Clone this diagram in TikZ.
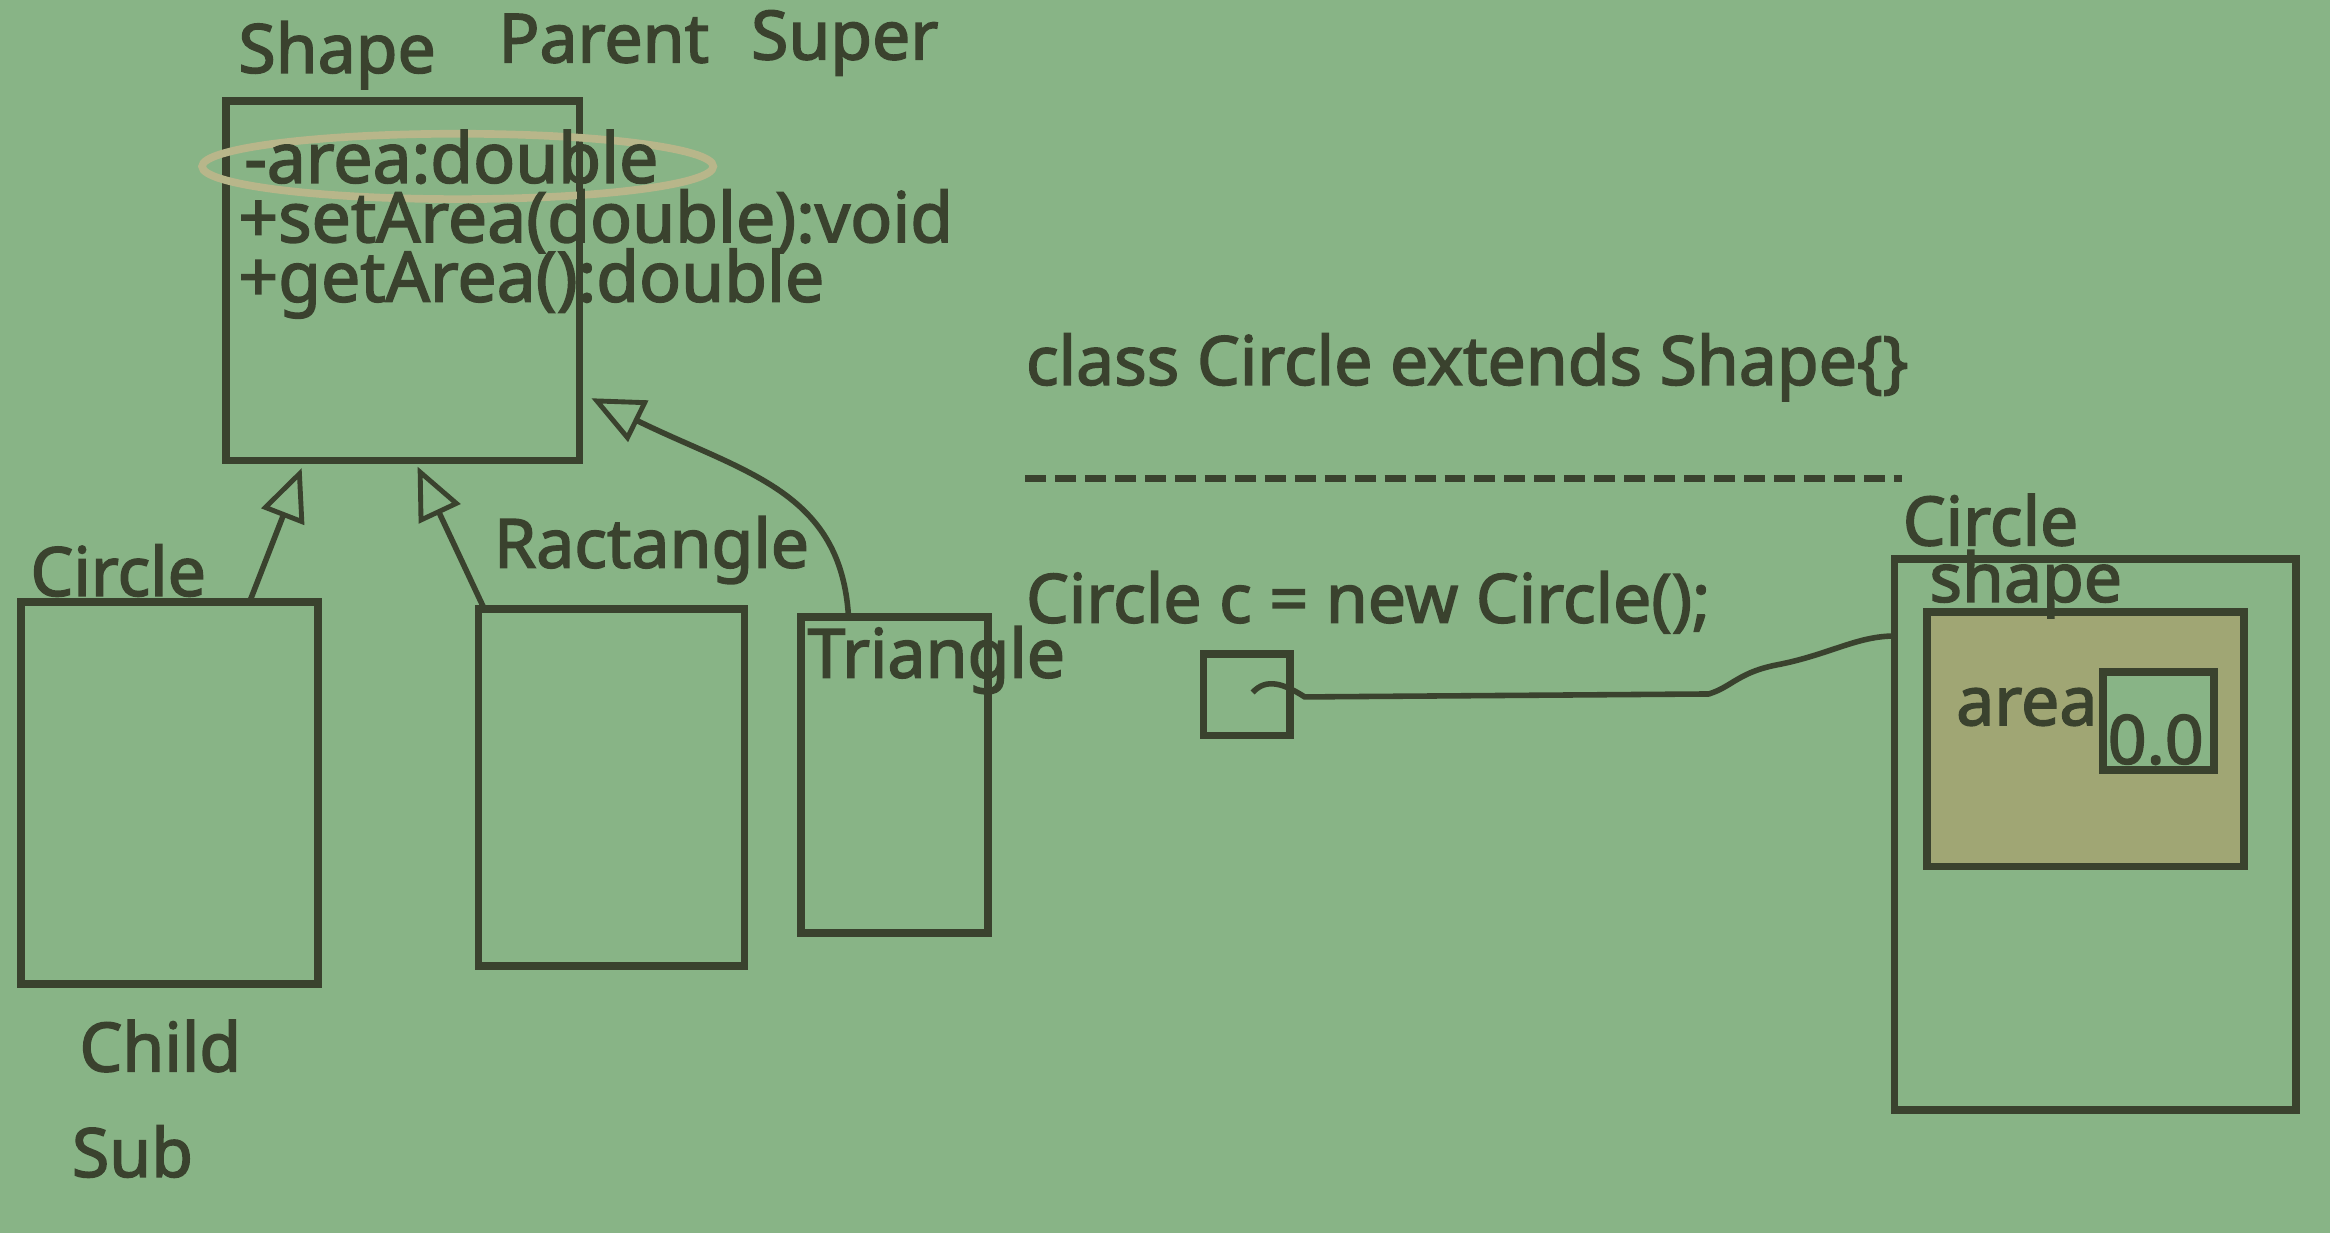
\documentclass[tikz,border=0pt]{standalone}
\usepackage{fontspec}
\setmainfont{Noto Sans}[BoldFont={Noto Sans}, BoldFeatures={FakeBold=2.2}]
\usetikzlibrary{arrows.meta, fit}

\definecolor{board}{RGB}{136,180,134}
\definecolor{ink}{RGB}{58,66,46}
\definecolor{chalk}{RGB}{184,182,138}
\definecolor{heap}{RGB}{160,166,116}

\begin{document}
\begin{tikzpicture}[x=0.15mm, y=-0.15mm, font=\bfseries\fontsize{19.5}{23}\selectfont]
    \tikzset{
        box/.style={draw=ink, line width=2.2pt, inner sep=0pt, outer sep=0pt},
        tag/.style={text=ink, inner sep=0pt, anchor=base west},
        member/.style={tag, font=\bfseries\fontsize{20}{24}\selectfont},
        inherit/.style={draw=ink, line width=1.6pt,
            -{Triangle[open, length=15pt, width=13pt, line width=1.4pt]}},
        wire/.style={draw=ink, line width=1.6pt},
        divider/.style={draw=ink, line width=1.8pt, dash pattern=on 6pt off 2.6pt}
    }

    \fill[board] (0,0) rectangle (1568,830);

    % class diagram
    \node[box, fit={(152,68) (390,310)}] (shapebox) {};
    \node[box, fit={(14,405) (214,662)}] (circbox) {};
    \node[box, fit={(322,410) (501,650)}] (rectbox) {};
    \node[box, fit={(539,415) (665,628)}] (tribox) {};

    \draw[chalk, line width=2.2pt] (308,112) ellipse [x radius=172, y radius=22];

    \node[tag] (shapename) at (160,49) {Shape};
    \node[tag] (parentword) at (335,42) {Parent};
    \node[tag] (superword) at (505,40) {Super};
    \node[member] (field) at (164,123) {-area:double};
    \node[member] (setter) at (160,163) {+setArea(double):void};
    \node[member] (getter) at (160,203) {+getArea():double};

    \node[tag] (circname) at (20,401) {Circle};
    \node[tag] (rectname) at (332,382) {Ractangle};
    \node[tag] (triname) at (543,456) {Triangle};
    \node[tag] (childword) at (53,721) {Child};
    \node[tag] (subword) at (48,792) {Sub};

    \coordinate (circfoot) at (168,405);
    \coordinate (circtip) at (203,315);
    \coordinate (rectfoot) at (326,410);
    \coordinate (recttip) at (281,314);
    \coordinate (trifoot) at (571,415);
    \coordinate (tritip) at (398,268);

    \draw[inherit] (circfoot) -- (circtip);
    \draw[inherit] (rectfoot) -- (recttip);
    \draw[inherit] (trifoot) .. controls (566,330) and (500,318) .. (tritip);

    % code and memory
    \node[tag] (classline) at (690,259) {class Circle extends Shape\{\}};
    \coordinate (dashstart) at (690,322);
    \coordinate (dashend) at (1280,322);
    \draw[divider] (dashstart) -- (dashend);
    \node[tag] (newline) at (690,419) {Circle c = new Circle();};

    \node[box, fit={(810,440) (868,495)}] (ptrbox) {};
    \node[box, fit={(1275,376) (1545,747)}] (objbox) {};
    \node[box, fill=heap, fit={(1297,412) (1510,583)}] (shapepart) {};
    \node[box, fill=board, fit={(1415,452) (1490,518)}] (areabox) {};

    \node[tag] (objname) at (1280,367) {Circle};
    \node[tag] (partname) at (1298,405) {shape};
    \node[tag] (areaname) at (1316,488) {area};
    \node[tag] (areaval) at (1418,514) {0.0};

    \coordinate (ptrstart) at (843,466);
    \coordinate (objhook) at (1275,428);
    \draw[wire] (ptrstart) .. controls (852,456) and (864,460) .. (878,469)
        -- (1150,467) .. controls (1166,462) and (1170,452) .. (1198,447)
        .. controls (1232,440) and (1250,428) .. (objhook);
\end{tikzpicture}
\end{document}
